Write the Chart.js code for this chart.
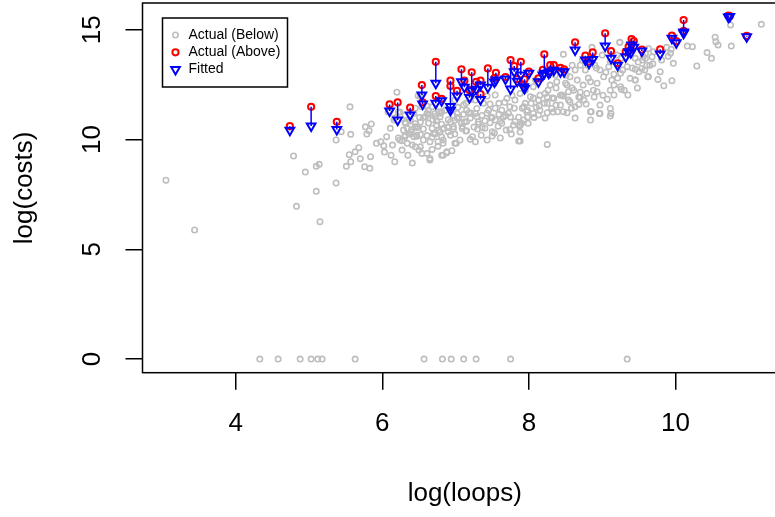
<!DOCTYPE html>
<html lang="en">

<head>
    <meta charset="UTF-8">
    <title>log(costs) vs log(loops)</title>
    <script src="https://cdn.jsdelivr.net/npm/chart.js"></script>
    <style>
        html, body { margin: 0; padding: 0; background: #fff; overflow: hidden; }
        #wrap { width: 800px; height: 517px; }
    </style>
</head>

<body>
    <div id="wrap"><canvas id="fitPlot"></canvas></div>

    <script>
        // axis ticks
        const xTicks = [4, 6, 8, 10];
        const yTicks = [0, 5, 10, 15];

        // observations below their fitted value (grey)
        const belowX = [
            3.05, 3.44, 4.79, 4.83, 4.95, 5.10, 5.14, 5.10, 5.15, 5.37, 5.51, 5.57, 5.76, 5.83, 6.17, 6.41,
            5.56, 5.44, 5.37, 5.57, 5.77, 5.85, 5.79, 5.82, 5.68, 5.63, 5.55, 5.70, 5.84, 5.92, 5.98, 6.02,
            6.06, 6.11, 6.20, 6.12, 6.27, 6.35, 6.24, 6.31, 6.39, 6.47, 6.45, 6.51, 6.59, 6.49, 6.32, 6.16,
            6.22, 6.52, 6.61, 6.65, 6.70, 6.74, 6.79, 6.83, 6.88, 6.95, 6.81, 6.90, 6.97, 6.99, 6.65, 6.68,
            6.61, 6.77, 6.86,
            6.27, 6.34, 6.29, 6.36, 6.43, 6.45, 6.50, 6.54, 6.65, 6.68, 6.76, 6.76, 6.83, 6.83, 6.88, 7.01,
            7.20, 7.27, 7.23, 7.30, 7.50, 7.50, 7.74, 7.76, 7.86, 7.81, 7.87, 7.90, 7.63, 7.54,
            6.31, 6.43, 6.56, 6.63, 6.72, 6.79, 6.97, 7.04, 7.11, 7.18, 7.29, 7.36, 7.43, 7.50, 7.59, 7.68,
            6.31, 6.38, 6.45, 6.52, 6.63, 6.74, 6.81, 6.93, 6.99, 7.08, 7.15, 7.31, 7.40, 7.47,
            6.34, 6.40, 6.47, 6.56, 6.68, 6.77, 6.90, 6.97, 7.09, 7.15, 7.36,
            6.31, 6.38, 6.47, 6.52, 6.61, 6.72, 6.81, 6.93,
            6.52, 6.54, 6.63, 7.11, 7.15, 7.20, 7.29, 7.38, 7.45, 7.54, 7.59, 7.63, 7.70, 7.74, 7.81, 7.88,
            7.93, 7.27, 7.02, 6.81, 6.72,
            8.47, 9.00, 9.24, 9.45, 9.56, 9.61, 9.63, 9.50, 9.34, 9.25, 9.09, 8.97, 8.90, 8.70, 8.63, 8.56,
            8.52, 8.38, 8.29, 8.22, 8.06, 8.02, 7.95, 8.13, 8.25, 8.34, 8.45, 8.61, 8.74, 8.84, 9.02, 9.13,
            9.25, 9.38, 9.45, 9.30, 9.11, 8.93, 8.79, 8.70, 8.56, 8.43, 8.31, 8.15, 8.06, 8.47, 8.84, 8.97,
            9.11, 8.63, 8.54,
            7.88, 7.88, 7.93, 7.99, 8.07, 8.13, 8.25, 8.33, 8.39, 8.52, 8.85, 8.96, 9.11, 9.12, 8.25, 7.97,
            9.63, 9.88, 9.94, 9.90, 9.97, 9.81, 9.79, 9.62, 9.76, 9.84, 9.95, 9.69, 10.16, 10.23, 10.29, 10.43,
            10.49, 10.54, 10.55, 10.58, 10.75, 10.76, 11.17, 9.59, 9.59, 9.68, 9.70, 9.93, 9.45, 9.45, 9.54, 9.65,
            9.20, 9.24, 8.86, 9.16, 9.26, 8.68,
            6.99, 7.09, 7.20, 7.31, 7.40, 7.47, 7.58, 7.65, 7.72, 7.80, 7.86, 7.77, 7.67, 7.54, 7.43, 7.27,
            7.14, 7.03, 6.90, 6.84, 6.69, 6.61, 6.45, 6.38, 6.24, 6.17, 6.08,
            7.91, 7.98, 8.03, 8.10, 8.15, 8.21, 8.26, 8.32, 8.37, 8.43, 8.50, 8.54, 8.59, 8.66, 8.70, 8.75,
            8.81, 8.88, 8.93, 9.01, 9.05, 9.16, 9.21, 9.28, 9.35, 9.41, 9.48, 9.55, 8.77, 8.36, 8.09, 7.95,
            8.22, 8.63, 8.84,
            6.68, 6.79, 6.89, 6.99, 7.06, 7.14, 7.25, 7.35, 7.43, 7.53, 7.61, 7.69, 7.79, 7.88, 7.02, 7.12,
            7.21, 7.48, 7.61, 7.75,
            7.98, 8.06, 8.14, 8.25, 8.37, 8.47, 8.58, 8.68, 8.78, 8.89, 8.97, 9.07,
            8.51, 8.59, 8.73, 8.92, 9.11, 9.26, 9.16, 9.49, 9.58,
            6.03, 6.14, 6.22, 6.49, 6.56, 6.41,
            4.33, 4.58, 4.88, 5.03, 5.12, 5.18, 5.63, 6.57, 6.82, 6.94, 7.11, 7.28, 7.75, 9.34
        ];
        const belowY = [
            8.15, 5.88, 9.25, 6.96, 8.52, 8.78, 8.87, 7.64, 6.26, 8.02, 8.78, 8.99, 8.76, 8.69, 8.99, 8.93,
            11.49, 10.36, 9.98, 10.24, 10.58, 10.71, 10.25, 10.40, 9.63, 9.44, 9.31, 9.13, 9.22, 9.83, 9.90, 9.72,
            10.13, 10.51, 12.16, 9.29, 9.52, 9.29, 9.98, 10.13, 10.36, 10.20, 10.58, 11.01, 11.04, 12.00, 10.74, 10.89,
            11.24, 9.67, 9.37, 9.90, 10.28, 10.66, 11.04, 9.98, 9.44, 9.49, 9.29, 10.36, 10.58, 9.83, 9.07, 11.49,
            11.19, 11.27, 11.34,
            9.94, 9.83, 10.43, 10.28, 10.13, 9.67, 9.52, 9.37, 9.14, 9.55, 9.70, 9.90, 9.83, 9.29, 9.40, 9.83,
            10.01, 9.90, 10.13, 10.48, 10.36, 10.16, 10.46, 10.25, 9.93, 10.81, 10.62, 10.74, 10.74, 10.89,
            11.10, 11.20, 11.00, 11.15, 11.05, 11.20, 11.10, 11.00, 11.15, 11.22, 11.05, 11.10, 11.20, 11.00, 11.15, 11.10,
            10.78, 10.85, 10.72, 10.80, 10.75, 10.85, 10.70, 10.80, 10.88, 10.75, 10.82, 10.70, 10.85, 10.76,
            10.51, 10.45, 10.55, 10.48, 10.52, 10.42, 10.55, 10.48, 10.50, 10.40, 10.55,
            10.20, 10.25, 10.15, 10.22, 10.18, 10.25, 10.12, 10.20,
            11.98, 11.49, 11.34, 11.57, 11.34, 11.83, 11.42, 11.65, 11.34, 12.03, 11.65, 11.34, 11.88, 11.49, 11.80, 12.10,
            11.49, 11.19, 11.19, 11.27, 11.19,
            13.88, 13.85, 14.43, 13.70, 13.77, 13.39, 12.86, 13.09, 13.32, 13.02, 13.32, 13.17, 13.39, 13.39, 13.17, 12.86,
            12.48, 12.63, 12.48, 12.10, 12.41, 11.95, 11.65, 11.80, 11.65, 11.88, 12.03, 12.25, 12.48, 12.63, 12.86, 12.71,
            12.41, 12.79, 12.71, 12.25, 12.25, 12.18, 12.10, 11.92, 11.72, 11.57, 11.42, 11.34, 11.19, 11.27, 11.27, 11.19,
            11.42, 11.49, 12.18,
            10.66, 9.93, 10.89, 10.74, 11.01, 11.12, 11.22, 11.25, 11.27, 11.22, 11.27, 11.19, 11.07, 11.19, 9.78, 11.27,
            14.15, 14.20, 14.11, 13.80, 13.47, 13.62, 13.09, 12.86, 12.74, 12.45, 12.68, 13.45, 14.26, 14.23, 13.35, 13.96,
            13.70, 14.66, 14.46, 14.31, 15.22, 14.26, 15.25, 13.93, 13.70, 13.77, 14.00, 13.93, 12.71, 13.20, 13.24, 13.39,
            13.85, 14.43, 14.20, 12.03, 12.29, 11.60,
            11.80, 10.60, 10.98, 10.80, 10.52, 11.62, 10.61, 11.02, 11.20, 11.43, 11.02, 12.02, 11.70, 11.43, 11.98, 11.80,
            11.65, 11.47, 10.90, 10.52, 10.90, 11.53, 11.43, 10.90, 11.25, 10.98, 11.25,
            11.43, 11.02, 11.65, 11.47, 12.02, 11.65, 12.25, 11.89, 12.35, 12.02, 12.57, 11.80, 12.35, 12.71, 12.16, 11.80,
            12.80, 12.25, 12.57, 12.02, 13.07, 12.48, 12.80, 13.17, 12.03, 13.26, 12.35, 13.62, 13.17, 12.94, 12.71, 12.25,
            10.98, 10.98, 10.89,
            10.11, 10.34, 10.57, 10.25, 9.98, 10.39, 10.57, 10.20, 9.98, 10.30, 10.07, 10.43, 10.66, 10.34, 10.98, 10.80,
            11.21, 11.03, 10.84, 11.03,
            11.34, 11.89, 11.53, 11.94, 11.57, 11.98, 11.43, 11.94, 11.62, 11.94, 11.57, 11.84,
            12.94, 13.39, 13.62, 13.26, 13.53, 13.71, 12.98, 13.53, 13.17,
            9.43, 9.75, 10.07, 10.57, 9.98, 9.75,
            0, 0, 0, 0, 0, 0, 0, 0, 0, 0, 0, 0, 0, 0
        ];

        // observations above their fitted value (red) and the fitted values (blue)
        const aboveX = [
            4.74, 5.03, 5.38, 6.10, 6.21, 6.38, 6.54, 6.55, 6.73, 6.73, 6.81, 6.93, 6.93, 7.02, 7.08, 7.12,
            7.19, 7.22, 7.28, 7.34, 7.34, 7.44, 7.55, 7.53, 7.75, 7.80, 7.89, 7.68, 7.84, 7.93, 8.00, 8.13,
            7.94, 8.21, 8.19, 8.29, 8.34, 8.27, 8.43, 8.48, 8.63, 8.77, 8.87, 8.82, 9.04, 9.12, 9.21, 9.40,
            9.43, 9.36, 9.32, 9.39, 9.54, 9.79, 9.95, 10.01, 10.11, 10.11, 10.72, 10.74, 10.97
        ];
        const aboveY = [
            10.61, 11.49, 10.81, 11.60, 11.69, 11.45, 12.48, 11.70, 13.54, 11.98, 11.85, 12.68, 12.44, 12.22, 13.20, 12.68,
            12.25, 13.06, 12.63, 12.68, 12.07, 13.24, 13.04, 12.80, 13.62, 13.35, 13.54, 12.85, 12.75, 12.50, 13.10, 12.79,
            12.75, 13.88, 13.17, 13.39, 13.39, 13.10, 13.27, 13.20, 14.43, 13.82, 13.97, 13.55, 14.84, 14.03, 13.47, 14.58,
            14.49, 14.23, 14.00, 14.10, 14.10, 14.11, 14.73, 14.48, 15.44, 14.95, 15.65, 15.62, 14.72
        ];
        const fittedY = [
            10.42, 10.62, 10.46, 11.30, 10.89, 11.12, 12.03, 11.62, 12.56, 11.65, 11.77, 11.34, 11.50, 11.98, 12.63, 12.38,
            11.92, 12.22, 12.29, 12.48, 11.83, 12.38, 12.71, 12.62, 12.30, 13.09, 12.94, 12.76, 12.66, 12.41, 13.02, 12.63,
            12.33, 13.02, 12.94, 13.09, 13.16, 13.02, 13.09, 13.09, 14.08, 13.62, 13.65, 13.47, 14.26, 13.70, 13.38, 14.31,
            14.20, 14.00, 13.77, 13.95, 14.03, 13.90, 14.61, 14.41, 14.84, 14.90, 15.58, 15.60, 14.68
        ];

        const belowPts = belowX.map((x, i) => ({ x: x, y: belowY[i] }));
        const abovePts = aboveX.map((x, i) => ({ x: x, y: aboveY[i] }));
        const fittedPts = aboveX.map((x, i) => ({ x: x, y: fittedY[i] }));
        // one segment per pair, broken by a null point
        const segPts = aboveX.flatMap((x, i) => [
            { x: x, y: aboveY[i] }, { x: x, y: fittedY[i] }, { x: x, y: null }
        ]);

        const FONT = '"Liberation Sans", Arial, Helvetica, sans-serif';

        // R style box round the plot region
        const boxPlugin = {
            id: 'plotBox',
            afterDraw(chart) {
                const { ctx, chartArea: a } = chart;
                ctx.save();
                ctx.strokeStyle = '#000';
                ctx.lineWidth = 1.5;
                ctx.strokeRect(a.left, a.top, a.right - a.left, a.bottom - a.top);
                ctx.restore();
            }
        };

        // legend box in the top left corner of the plot
        const legendPlugin = {
            id: 'cornerLegend',
            afterDraw(chart) {
                const { ctx, chartArea: a } = chart;
                const sets = chart.data.datasets
                    .filter(d => d.legendRank)
                    .sort((p, q) => p.legendRank - q.legendRank);
                const x0 = a.left + 20, y0 = a.top + 15;
                const w = 125, h = 69, rowH = 17.3;
                const sx = x0 + 13;
                ctx.save();
                ctx.fillStyle = '#fff';
                ctx.fillRect(x0, y0, w, h);
                ctx.strokeStyle = '#000';
                ctx.lineWidth = 1.5;
                ctx.strokeRect(x0, y0, w, h);
                ctx.font = '14px ' + FONT;
                ctx.textBaseline = 'middle';
                sets.forEach((d, i) => {
                    const cy = y0 + 17 + i * rowH;
                    const r = d.pointRadius;
                    ctx.strokeStyle = d.borderColor;
                    ctx.lineWidth = d.borderWidth;
                    ctx.beginPath();
                    if (d.pointStyle === 'circle') {
                        ctx.arc(sx, cy, r, 0, Math.PI * 2);
                    } else {
                        // downward triangle, same shape as the rotated point style
                        ctx.moveTo(sx, cy + r);
                        ctx.lineTo(sx + r * 0.866, cy - r / 2);
                        ctx.lineTo(sx - r * 0.866, cy - r / 2);
                        ctx.closePath();
                    }
                    ctx.stroke();
                    ctx.fillStyle = '#000';
                    ctx.fillText(d.label, x0 + 26, cy);
                });
                ctx.restore();
            }
        };

        const ctx = document.getElementById('fitPlot').getContext('2d');
        new Chart(ctx, {
            type: 'scatter',
            data: {
                datasets: [
                    {
                        label: 'Fitted',
                        data: fittedPts,
                        pointStyle: 'triangle',
                        rotation: 180,
                        pointRadius: 5,
                        borderWidth: 2,
                        borderColor: '#0000ff',
                        backgroundColor: 'rgba(0,0,0,0)',
                        order: 1,
                        legendRank: 3
                    },
                    {
                        type: 'line',
                        label: 'segments',
                        data: segPts,
                        borderColor: '#0000ff',
                        borderWidth: 1.5,
                        pointRadius: 0,
                        spanGaps: false,
                        fill: false,
                        order: 2
                    },
                    {
                        label: 'Actual (Above)',
                        data: abovePts,
                        pointStyle: 'circle',
                        pointRadius: 3.1,
                        borderWidth: 2,
                        borderColor: '#ff0000',
                        backgroundColor: 'rgba(0,0,0,0)',
                        order: 3,
                        legendRank: 2
                    },
                    {
                        label: 'Actual (Below)',
                        data: belowPts,
                        pointStyle: 'circle',
                        pointRadius: 2.7,
                        borderWidth: 1.6,
                        borderColor: '#bebebe',
                        backgroundColor: 'rgba(0,0,0,0)',
                        order: 4,
                        legendRank: 1
                    }
                ]
            },
            options: {
                responsive: true,
                maintainAspectRatio: false,
                animation: false,
                layout: { autoPadding: false, padding: { left: 0, top: 3, right: 13, bottom: 0 } },
                plugins: {
                    legend: { display: false },
                    tooltip: { enabled: false }
                },
                scales: {
                    x: {
                        type: 'linear',
                        min: 2.73,
                        max: 11.52,
                        afterBuildTicks: s => { s.ticks = xTicks.map(v => ({ value: v })); },
                        afterFit: s => { s.height = 144.3; s.paddingLeft = 0; s.paddingRight = 0; },
                        grid: { drawOnChartArea: false, color: '#000', lineWidth: 1.5, tickLength: 17 },
                        border: { display: false },
                        ticks: {
                            color: '#000',
                            padding: 19,
                            maxRotation: 0,
                            font: { family: FONT, size: 26 }
                        },
                        title: {
                            display: true,
                            text: 'log(loops)',
                            color: '#000',
                            font: { family: FONT, size: 26 },
                            padding: { top: 0, bottom: 8 }
                        }
                    },
                    y: {
                        type: 'linear',
                        min: -0.62,
                        max: 16.22,
                        afterBuildTicks: s => { s.ticks = yTicks.map(v => ({ value: v })); },
                        afterFit: s => { s.width = 142.5; s.paddingTop = 0; s.paddingBottom = 0; },
                        grid: { drawOnChartArea: false, color: '#000', lineWidth: 1.5, tickLength: 17 },
                        border: { display: false },
                        ticks: {
                            color: '#000',
                            padding: 18,
                            minRotation: 90,
                            maxRotation: 90,
                            crossAlign: 'center',
                            font: { family: FONT, size: 26 }
                        },
                        title: {
                            display: true,
                            text: 'log(costs)',
                            color: '#000',
                            font: { family: FONT, size: 26 },
                            padding: { top: 9, bottom: 0 }
                        }
                    }
                }
            },
            plugins: [boxPlugin, legendPlugin]
        });
    </script>

</body>

</html>
